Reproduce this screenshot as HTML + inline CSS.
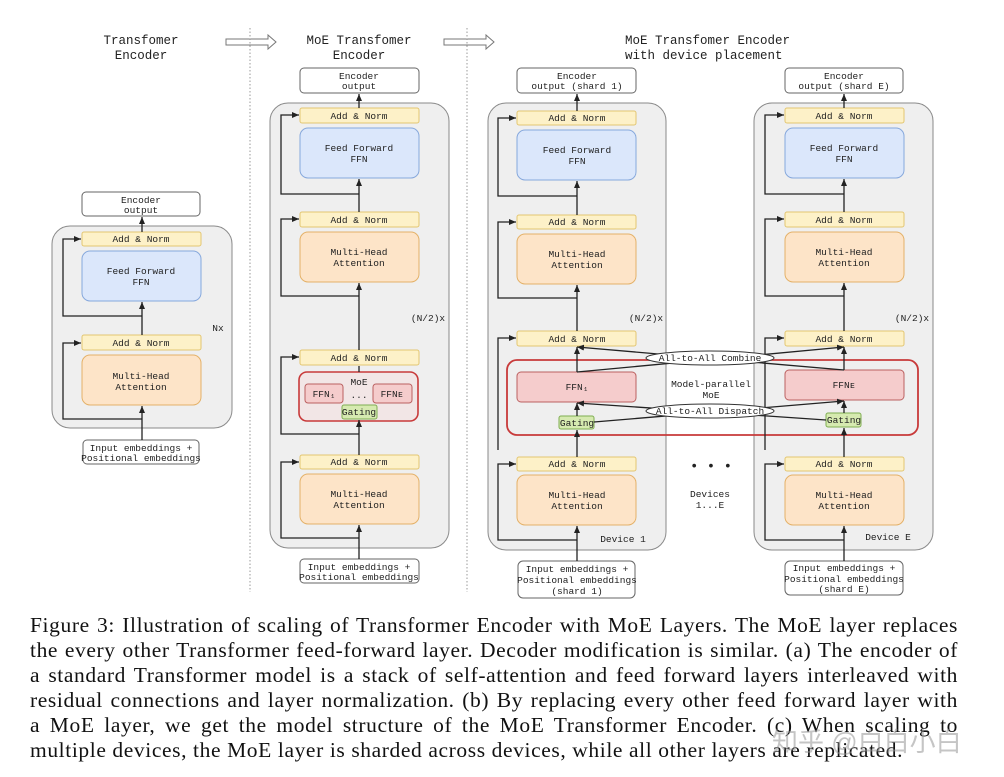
<!DOCTYPE html>
<html><head><meta charset="utf-8"><style>
body{margin:0;background:#fff;width:1004px;height:777px;overflow:hidden;position:relative}
svg{position:absolute;left:0;top:0}
svg text{font-family:"Liberation Mono",monospace;font-size:9.5px;fill:#222;text-anchor:middle}
.t{font-size:12.5px}
.g{fill:#efefef;stroke:#8a8a8a;stroke-width:1}
.w{fill:#fff;stroke:#666;stroke-width:1}
.an{fill:#fdf1c8;stroke:#e3c670;stroke-width:1}
.ff{fill:#dbe7fb;stroke:#86a8dc;stroke-width:1}
.mh{fill:#fde4c8;stroke:#e4b168;stroke-width:1}
.pk{fill:#f5cccc;stroke:#bb6060;stroke-width:1}
.gt{fill:#d6eab0;stroke:#7fae52;stroke-width:1}
.l{fill:none;stroke:#222;stroke-width:1.3}
#cap{position:absolute;left:30px;top:613px;width:928px;font-family:"Liberation Serif",serif;font-size:21.5px;letter-spacing:0.6px;line-height:25px;color:#111}
#cap div{text-align:justify;text-align-last:justify;height:25px;overflow:hidden}
#cap div.last{text-align-last:left}
#wm{position:absolute;left:772px;top:722px;font-family:"Liberation Sans","Noto Sans CJK SC",sans-serif;font-size:26px;color:rgba(150,150,150,0.55)}
</style></head><body>
<svg width="1004" height="610" viewBox="0 0 1004 610">
<defs><marker id="a" markerWidth="8" markerHeight="8" refX="7" refY="4" orient="auto" markerUnits="userSpaceOnUse"><path d="M0,1 L7,4 L0,7z" fill="#222"/></marker></defs>
<text class="t" x="141" y="44">Transfomer</text><text class="t" x="141" y="59">Encoder</text>
<text class="t" x="359" y="44">MoE Transfomer</text><text class="t" x="359" y="59">Encoder</text>
<text class="t" x="625" y="44" style="text-anchor:start">MoE Transfomer Encoder</text><text class="t" x="625" y="59" style="text-anchor:start">with device placement</text>
<path d="M226,39 H268 V35 L276,42 L268,49 V45 H226z" fill="#fff" stroke="#777"/>
<path d="M444,39 H486 V35 L494,42 L486,49 V45 H444z" fill="#fff" stroke="#777"/>
<line x1="250" y1="28" x2="250" y2="592" stroke="#999" stroke-dasharray="1.5,2"/>
<line x1="467" y1="28" x2="467" y2="592" stroke="#999" stroke-dasharray="1.5,2"/>

<rect class="g" x="52" y="226" width="180" height="202" rx="18"/>
<rect class="w" x="82" y="192" width="118" height="24" rx="4"/><text x="141" y="203">Encoder</text><text x="141" y="213">output</text>
<rect class="an" x="82" y="232" width="119" height="14" rx="2"/><text x="141" y="242">Add &amp; Norm</text>
<rect class="ff" x="82" y="251" width="119" height="50" rx="8"/><text x="141" y="274">Feed Forward</text><text x="141" y="285">FFN</text>
<rect class="an" x="82" y="335" width="119" height="15" rx="2"/><text x="141" y="346">Add &amp; Norm</text>
<rect class="mh" x="82" y="355" width="119" height="50" rx="8"/><text x="141" y="379">Multi-Head</text><text x="141" y="390">Attention</text>
<rect class="w" x="83" y="440" width="116" height="24" rx="4"/><text x="141" y="451">Input embeddings +</text><text x="141" y="461">Positional embeddings</text>
<text x="218" y="331">Nx</text>
<line class="l" x1="142" y1="440" x2="142" y2="406" marker-end="url(#a)"/>
<line class="l" x1="142" y1="335" x2="142" y2="302" marker-end="url(#a)"/>
<line class="l" x1="142" y1="232" x2="142" y2="217" marker-end="url(#a)"/>
<path class="l" d="M142,419 H63 V343 H81" marker-end="url(#a)"/>
<path class="l" d="M142,316 H63 V239 H81" marker-end="url(#a)"/>

<rect class="g" x="270" y="103" width="179" height="445" rx="18"/>
<rect class="w" x="300" y="68" width="119" height="25" rx="4"/><text x="359" y="79">Encoder</text><text x="359" y="89">output</text>
<rect class="an" x="300" y="108" width="119" height="15" rx="2"/><text x="359" y="119">Add &amp; Norm</text>
<rect class="ff" x="300" y="128" width="119" height="50" rx="8"/><text x="359" y="151">Feed Forward</text><text x="359" y="162">FFN</text>
<rect class="an" x="300" y="212" width="119" height="15" rx="2"/><text x="359" y="223">Add &amp; Norm</text>
<rect class="mh" x="300" y="232" width="119" height="50" rx="8"/><text x="359" y="255">Multi-Head</text><text x="359" y="266">Attention</text>
<text x="428" y="321">(N/2)x</text>
<rect class="an" x="300" y="350" width="119" height="15" rx="2"/><text x="359" y="361">Add &amp; Norm</text>
<rect x="299" y="372" width="119" height="49" rx="8" fill="#f2e6e6" stroke="#c83a3a" stroke-width="1.6"/>
<text x="359" y="385">MoE</text><text x="359" y="398">...</text>
<rect class="pk" x="305" y="384" width="38" height="19" rx="3"/><text x="324" y="397">FFN₁</text>
<rect class="pk" x="373" y="384" width="39" height="19" rx="3"/><text x="392" y="397">FFNᴇ</text>
<rect class="gt" x="342" y="405" width="35" height="14" rx="2"/><text x="359" y="415">Gating</text>
<rect class="an" x="300" y="455" width="119" height="14" rx="2"/><text x="359" y="465">Add &amp; Norm</text>
<rect class="mh" x="300" y="474" width="119" height="50" rx="8"/><text x="359" y="497">Multi-Head</text><text x="359" y="508">Attention</text>
<rect class="w" x="300" y="559" width="119" height="24" rx="4"/><text x="359" y="570">Input embeddings +</text><text x="359" y="580">Positional embeddings</text>
<line class="l" x1="359" y1="559" x2="359" y2="525" marker-end="url(#a)"/>
<line class="l" x1="359" y1="455" x2="359" y2="420" marker-end="url(#a)"/>
<line class="l" x1="359" y1="372" x2="359" y2="366"/>
<line class="l" x1="359" y1="350" x2="359" y2="283" marker-end="url(#a)"/>
<line class="l" x1="359" y1="212" x2="359" y2="179" marker-end="url(#a)"/>
<line class="l" x1="359" y1="108" x2="359" y2="94" marker-end="url(#a)"/>
<path class="l" d="M359,538 H281 V462 H299" marker-end="url(#a)"/>
<path class="l" d="M359,434 H281 V357 H299" marker-end="url(#a)"/>
<path class="l" d="M359,296 H281 V219 H299" marker-end="url(#a)"/>
<path class="l" d="M359,194 H281 V115 H299" marker-end="url(#a)"/>

<rect class="g" x="488" y="103" width="178" height="447" rx="18"/>
<rect class="w" x="517" y="68" width="119" height="25" rx="4"/><text x="577" y="79">Encoder</text><text x="577" y="89">output (shard 1)</text>
<rect class="an" x="517" y="111" width="119" height="14" rx="2"/><text x="577" y="121">Add &amp; Norm</text>
<rect class="ff" x="517" y="130" width="119" height="50" rx="8"/><text x="577" y="153">Feed Forward</text><text x="577" y="164">FFN</text>
<rect class="an" x="517" y="215" width="119" height="14" rx="2"/><text x="577" y="225">Add &amp; Norm</text>
<rect class="mh" x="517" y="234" width="119" height="50" rx="8"/><text x="577" y="257">Multi-Head</text><text x="577" y="268">Attention</text>
<text x="646" y="321">(N/2)x</text>
<rect class="an" x="517" y="331" width="119" height="15" rx="2"/><text x="577" y="342">Add &amp; Norm</text>
<rect class="an" x="517" y="457" width="119" height="14" rx="2"/><text x="577" y="467">Add &amp; Norm</text>
<rect class="mh" x="517" y="475" width="119" height="50" rx="8"/><text x="577" y="498">Multi-Head</text><text x="577" y="509">Attention</text>
<text x="623" y="542">Device 1</text>
<rect class="w" x="518" y="561" width="117" height="37" rx="5"/><text x="577" y="572">Input embeddings +</text><text x="577" y="583">Positional embeddings</text><text x="577" y="594">(shard 1)</text>

<rect class="g" x="754" y="103" width="179" height="447" rx="18"/>
<rect class="w" x="785" y="68" width="118" height="25" rx="4"/><text x="844" y="79">Encoder</text><text x="844" y="89">output (shard E)</text>
<rect class="an" x="785" y="108" width="119" height="15" rx="2"/><text x="844" y="119">Add &amp; Norm</text>
<rect class="ff" x="785" y="128" width="119" height="50" rx="8"/><text x="844" y="151">Feed Forward</text><text x="844" y="162">FFN</text>
<rect class="an" x="785" y="212" width="119" height="15" rx="2"/><text x="844" y="223">Add &amp; Norm</text>
<rect class="mh" x="785" y="232" width="119" height="50" rx="8"/><text x="844" y="255">Multi-Head</text><text x="844" y="266">Attention</text>
<text x="912" y="321">(N/2)x</text>
<rect class="an" x="785" y="331" width="119" height="15" rx="2"/><text x="844" y="342">Add &amp; Norm</text>
<rect class="an" x="785" y="457" width="119" height="14" rx="2"/><text x="844" y="467">Add &amp; Norm</text>
<rect class="mh" x="785" y="475" width="119" height="50" rx="8"/><text x="844" y="498">Multi-Head</text><text x="844" y="509">Attention</text>
<text x="888" y="540">Device E</text>
<rect class="w" x="785" y="561" width="118" height="34" rx="5"/><text x="844" y="571">Input embeddings +</text><text x="844" y="582">Positional embeddings</text><text x="844" y="592">(shard E)</text>

<rect x="507" y="360" width="411" height="75" rx="10" fill="none" stroke="#c83a3a" stroke-width="1.8"/>
<rect class="pk" x="517" y="372" width="119" height="30" rx="4"/><text x="577" y="390">FFN₁</text>
<rect class="pk" x="785" y="370" width="119" height="30" rx="4"/><text x="844" y="388">FFNᴇ</text>
<rect class="gt" x="559" y="416" width="35" height="13" rx="2"/><text x="577" y="426">Gating</text>
<rect class="gt" x="826" y="413" width="35" height="14" rx="2"/><text x="844" y="423">Gating</text>
<text x="711" y="387">Model-parallel</text><text x="711" y="398">MoE</text>
<text x="711" y="470" style="font-size:14px">•  •  •</text>
<text x="710" y="497">Devices</text><text x="710" y="508">1...E</text>

<line class="l" x1="577" y1="561" x2="577" y2="526" marker-end="url(#a)"/>
<line class="l" x1="577" y1="457" x2="577" y2="430" marker-end="url(#a)"/>
<line class="l" x1="577" y1="416" x2="577" y2="403" marker-end="url(#a)"/>
<line class="l" x1="577" y1="372" x2="577" y2="347" marker-end="url(#a)"/>
<line class="l" x1="577" y1="331" x2="577" y2="285" marker-end="url(#a)"/>
<line class="l" x1="577" y1="215" x2="577" y2="181" marker-end="url(#a)"/>
<line class="l" x1="577" y1="111" x2="577" y2="94" marker-end="url(#a)"/>
<path class="l" d="M577,540 H498 V464 H516" marker-end="url(#a)"/>
<path class="l" d="M577,298 H498 V222 H516" marker-end="url(#a)"/>
<path class="l" d="M577,196 H498 V118 H516" marker-end="url(#a)"/>
<line class="l" x1="844" y1="561" x2="844" y2="526" marker-end="url(#a)"/>
<line class="l" x1="844" y1="457" x2="844" y2="428" marker-end="url(#a)"/>
<line class="l" x1="844" y1="413" x2="844" y2="401" marker-end="url(#a)"/>
<line class="l" x1="844" y1="370" x2="844" y2="347" marker-end="url(#a)"/>
<line class="l" x1="844" y1="331" x2="844" y2="283" marker-end="url(#a)"/>
<line class="l" x1="844" y1="212" x2="844" y2="179" marker-end="url(#a)"/>
<line class="l" x1="844" y1="108" x2="844" y2="94" marker-end="url(#a)"/>
<path class="l" d="M844,540 H765 V464 H784" marker-end="url(#a)"/>
<path class="l" d="M844,296 H765 V219 H784" marker-end="url(#a)"/>
<path class="l" d="M844,194 H765 V115 H784" marker-end="url(#a)"/>
<path class="l" d="M765,450 V338 H784" marker-end="url(#a)"/>
<path class="l" d="M498,450 V338 H516" marker-end="url(#a)"/>
<line class="l" x1="577" y1="372" x2="844" y2="347" marker-end="url(#a)"/>
<line class="l" x1="844" y1="370" x2="577" y2="347" marker-end="url(#a)"/>
<line class="l" x1="594" y1="422" x2="844" y2="401" marker-end="url(#a)"/>
<line class="l" x1="826" y1="420" x2="577" y2="403" marker-end="url(#a)"/>
<ellipse cx="710" cy="358" rx="64" ry="7" fill="#fff" stroke="#333"/><text x="710" y="361">All-to-All Combine</text>
<ellipse cx="710" cy="411" rx="64" ry="7" fill="#fff" stroke="#333"/><text x="710" y="414">All-to-All Dispatch</text>
</svg>
<div id="cap">
<div>Figure 3: Illustration of scaling of Transformer Encoder with MoE Layers. The MoE layer replaces</div>
<div>the every other Transformer feed-forward layer. Decoder modification is similar. (a) The encoder of</div>
<div>a standard Transformer model is a stack of self-attention and feed forward layers interleaved with</div>
<div>residual connections and layer normalization. (b) By replacing every other feed forward layer with</div>
<div>a MoE layer, we get the model structure of the MoE Transformer Encoder. (c) When scaling to</div>
<div class="last">multiple devices, the MoE layer is sharded across devices, while all other layers are replicated.</div>
</div>
<div id="wm">知乎 @白白小白</div>
</body></html>
